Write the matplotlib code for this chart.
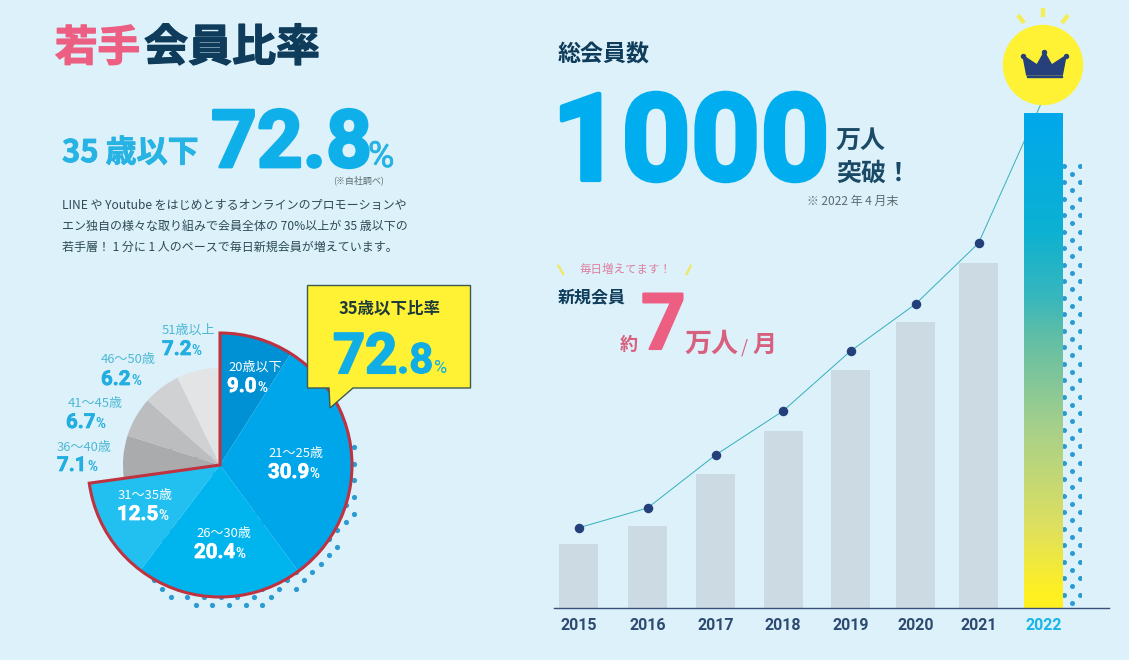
import matplotlib
matplotlib.use("Agg")
import numpy as np
import matplotlib.pyplot as plt
import matplotlib.patheffects as pe
from matplotlib.colors import LinearSegmentedColormap
from matplotlib.patches import Circle, Polygon, Rectangle

# ---- data ----
years = ["2015", "2016", "2017", "2018", "2019", "2020", "2021", "2022"]
members_bar = [129, 166, 271, 358, 481, 578, 697, 1000]
members_line = [162, 202, 309, 398, 519, 614, 737, 1030]
age_young = ["20歳以下", "21〜25歳", "26〜30歳", "31〜35歳"]
share_young = [9.0, 30.9, 20.4, 12.5]
age_old = ["36〜40歳", "41〜45歳", "46〜50歳", "51歳以上"]
share_old = [7.1, 6.7, 6.2, 7.2]

# ---- layout / style ----
W, H = 1129, 660
BG = "#dcf1f9"
JP = ["Noto Sans CJK JP", "DejaVu Sans"]
NUM = ["Roboto", "DejaVu Sans"]
PINK, NAVY, CYAN = "#ec5f82", "#0e3c5a", "#00aeef"
YELLOW, DOT = "#fff134", "#2b9bd4"
bar_x = [578.5, 647.5, 715.5, 783, 850.5, 915.5, 978.5, 1043.5]
BASE_PX, TOP_PX = 608, 113
k = (BASE_PX - TOP_PX) / 1000
fig = plt.figure(figsize=(W / 100, H / 100), dpi=100, facecolor=BG)
PT = 0.72

# ---- bar + line chart ----
ax = fig.add_axes([0, 0, 1, 1], facecolor="none")
ax.set_xlim(0, W)
ax.set_ylim(-(H - BASE_PX) / k, BASE_PX / k)
bars = ax.bar(bar_x, members_bar, width=39, color="#ccdbe3", zorder=2)
ax.plot(bar_x, members_line, color="#35b0bd", lw=0.7, zorder=1)
ax.scatter(bar_x[:-1], members_line[:-1], s=(9.5 * PT) ** 2, color="#24407a", lw=0, zorder=3)
grad = LinearSegmentedColormap.from_list(
    "g", [(0, "#00a8ec"), (0.236, "#0cb1d2"), (0.378, "#3ab7bc"), (0.44, "#5cbda8"),
          (0.64, "#a8d08a"), (0.84, "#dfe05e"), (0.97, "#fff022"), (1, "#fff022")])
im = ax.imshow(np.linspace(0, 1, 256)[:, None], cmap=grad, aspect="auto", zorder=2.5,
               extent=[bar_x[-1] - 19.5, bar_x[-1] + 19.5, 0, members_bar[-1]], origin="upper")
im.set_clip_path(bars[-1])
ax.set_xlim(0, W)
ax.set_ylim(-(H - BASE_PX) / k, BASE_PX / k)
for s in ("left", "top", "right"):
    ax.spines[s].set_visible(False)
ax.spines["bottom"].set_position(("data", 0))
ax.spines["bottom"].set_bounds(554, 1109)
ax.spines["bottom"].set_color("#3a4f7a")
ax.spines["bottom"].set_linewidth(1.0)
ax.set_yticks([])
ax.set_xticks(bar_x, years, fontfamily=NUM, fontweight="bold", fontsize=11.5, color="#2d4a73")
ax.tick_params(axis="x", length=0, pad=7)
ax.get_xticklabels()[-1].set_color("#19b5e8")

# ---- pie ----
cx, cy, pad = 220, 465, 150
pa = fig.add_axes([(cx - pad) / W, (H - cy - pad) / H, 2 * pad / W, 2 * pad / H])
shares = share_young + share_old
cols = ["#0090d4", "#00a6ea", "#00b4ee", "#22c0f0", "#aaabad", "#bcbdbf", "#d0d1d3", "#e3e4e6"]
wedges, _ = pa.pie(shares, colors=cols, radius=132, startangle=90, counterclock=False)
for w in wedges[4:]:
    w.set_radius(97)
outline, _ = pa.pie([sum(share_young), sum(share_old)], colors=["none", "none"], radius=132,
                    startangle=90, counterclock=False,
                    wedgeprops=dict(edgecolor="#bf3240", linewidth=2.2, joinstyle="miter"))
outline[1].set_visible(False)
pa.set_xlim(-pad, pad)
pa.set_ylim(-pad, pad)
pa.set_axis_off()
pa.patch.set_visible(False)

# ---- overlay in pixel coordinates ----
ov = fig.add_axes([0, 0, 1, 1], facecolor="none")
ov.set_xlim(0, W)
ov.set_ylim(H, 0)
ov.set_axis_off()
rend = fig.canvas.get_renderer()


def T(x, y, s, px, color, weight="normal", ha="left", va="baseline", family=JP, z=5, heavy=0):
    t = ov.text(x, y, s, fontsize=px * PT, color=color, fontweight=weight, ha=ha, va=va,
                family=family, zorder=z)
    if heavy:
        t.set_path_effects([pe.withStroke(linewidth=heavy, foreground=color)])
    return t


def pct(x, y, val, px, color):
    t = T(x, y, f"{val:.1f}", px, color, "bold", family=NUM, heavy=0.5)
    e = t.get_window_extent(rend)
    T(e.x1 + 0.5, y, "%", px * 0.66, color, "bold", family=NUM)


# dotted crescent behind the pie
lat_x, lat_y = [], []
for i in range(0, 30):
    for j in range(-2, 24):
        if (i + j) % 2 == 0:
            x, y = 354 - 8.33 * i, 447 + 8.33 * j
            if np.hypot(x - 222, y - 472) < 140 and y > 440 and x > 148:
                lat_x.append(x)
                lat_y.append(y)
ax.scatter(lat_x, [(BASE_PX - y) / k for y in lat_y], s=(5.2 * PT) ** 2, color=DOT, lw=0, zorder=0)

# dotted strip beside the 2022 bar
sx, sy = [], []
for r in range(0, 54):
    for c, xx in enumerate((1064.3, 1072.3, 1080)):
        if (c == 1) == (r % 2 == 1):
            sx.append(xx)
            sy.append(165.7 + 8.25 * r)
dots = ov.scatter(sx, sy, s=(5 * PT) ** 2, color=DOT, lw=0)
dots.set_clip_path(Rectangle((1063, 163), 17.5, 443, transform=ov.transData))

# crown badge
ov.add_patch(Circle((1043, 65), 39.5, color=YELLOW, zorder=3))
for (a, b), (c, d) in [((1018, 15), (1024, 23)), ((1043, 8), (1043, 17)), ((1068, 15), (1062, 23))]:
    ov.plot([a, c], [b, d], color="#f6ee50", lw=3.0, solid_capstyle="butt", zorder=3)
crown = [(1023, 55.7), (1037, 65), (1044.3, 52), (1051.7, 65), (1066, 55.7), (1062.3, 75), (1026.7, 75)]
ov.add_patch(Polygon(crown, closed=True, color="#25407a", zorder=4))
ov.add_patch(Rectangle((1027, 76.2), 35, 1.2, color="#25407a", zorder=4))
ov.scatter([1023, 1044.3, 1066], [55.7, 52, 55.7], s=(4 * PT) ** 2, color="#25407a", zorder=4)

# headline texts, left
T(55, 61, "若手", 42.5, PINK, "bold", heavy=1.0)
T(144, 61, "会員比率", 44, NAVY, "bold", heavy=1.0)
T(62, 162, "35 歳以下", 31, "#27b3e3", "bold", heavy=0.6)
T(211, 167, "72.8", 80, "#0fb0ea", "bold", family=NUM, heavy=2.0)
T(368, 167, "%", 36, "#27b3e3", "normal", family=NUM, heavy=0.5)
T(359, 180, "(※自社調べ)", 9, "#5a6a70", ha="center", va="center")
body = ["LINE や Youtube をはじめとするオンラインのプロモーションや",
        "エン独自の様々な取り組みで会員全体の 70%以上が 35 歳以下の",
        "若手層！ 1 分に 1 人のペースで毎日新規会員が増えています。"]
for yy, line in zip((206, 226, 247), body):
    T(62, yy, line, 12.0, "#2d4a55", va="center")

# callout
ov.add_patch(Polygon([(307.5, 285.5), (470.5, 285.5), (470.5, 388), (353, 388), (330, 408), (329, 388),
                      (307.5, 388)], closed=True, fc=YELLOW, ec="#3f5a50", lw=1, zorder=3))
T(390, 313, "35歳以下比率", 16.5, "#1d3a3a", "bold", ha="center")
T(333, 373, "72", 56, "#10aee4", "bold", family=NUM, heavy=1.5)
T(397, 373, ".8", 42, "#10aee4", "bold", family=NUM, heavy=0.8)
T(433, 373, "%", 18, "#10aee4", family=NUM)

# pie labels
for name, val, lx, ly, vx, vy in zip(age_young, share_young,
                                     (228, 268, 196, 118), (367, 453, 533, 495),
                                     (227, 268, 194, 117), (392, 478, 558, 520)):
    T(lx, ly, name, 13, "white", va="center", ha="left")
    pct(vx, vy, val, 20.5, "white")
for name, val, lx, ly, vx, vy in zip(age_old, share_old,
                                     (57, 68, 101, 162), (447, 404, 359, 330),
                                     (57, 66, 101, 162), (471, 428, 385, 355)):
    T(lx, ly, name, 13, "#4fb8d6", va="center", ha="left")
    pct(vx, vy, val, 20.5, "#22aee0")

# headline texts, right
T(558, 62, "総会員数", 23, NAVY, "bold")
T(552, 180, "1000", 121, CYAN, "bold", family=NUM, heavy=3.0)
T(836, 148, "万人", 25, "#1a4a66", "bold")
T(836, 181, "突破！", 25, "#1a4a66", "bold")
T(807, 201, "※ 2022 年 4 月末", 12, "#5a6a70", va="center")
T(580, 269, "毎日増えてます！", 11.5, "#dc7fa0", va="center")
ov.plot([558.3, 563.3], [265.7, 274], color="#f0e860", lw=1.6)
ov.plot([690.7, 686.7], [265.7, 274], color="#f0e860", lw=1.6)
T(558, 303, "新規会員", 17, NAVY, "bold")
T(620, 350, "約", 18, "#d8607f", "bold")
T(641, 349, "7", 78, PINK, "bold", family=NUM, heavy=1.5)
T(684, 352, "万人", 27, "#d8607f", "bold")
T(741, 352, "/", 18, "#d8607f")
T(752, 352, "月", 24, "#d8607f", "bold")

fig.savefig("out.png", dpi=100, facecolor=BG)
